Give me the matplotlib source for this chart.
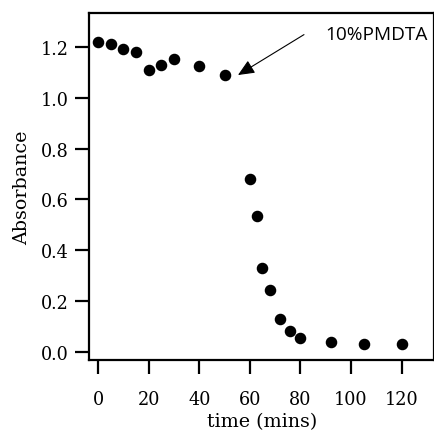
import matplotlib
matplotlib.use("Agg")
import matplotlib.pyplot as plt

time_min = [0, 5, 10, 15, 20, 25, 30, 40, 50, 60, 63, 65, 68, 72, 76, 80, 92, 105, 120]
absorbance = [1.218, 1.210, 1.190, 1.180, 1.109, 1.130, 1.151, 1.124, 1.089,
              0.680, 0.535, 0.331, 0.243, 0.131, 0.084, 0.053, 0.038, 0.031, 0.029]
x_ticks = [0, 20, 40, 60, 80, 100, 120]
y_ticks = [0.0, 0.2, 0.4, 0.6, 0.8, 1.0, 1.2]

plt.rcParams['font.family'] = ['DejaVu Serif']

fig = plt.figure(figsize=(4.35, 4.31), dpi=100)
ax = fig.add_axes([0.2057, 0.163, 0.792, 0.8045])
ax.plot(time_min, absorbance, 'o', color='black', markersize=7.3, linestyle='none')
ax.set_xlim(-3.4, 132.8)
ax.set_ylim(-0.031, 1.333)
ax.set_xticks(x_ticks)
ax.set_yticks(y_ticks)
ax.set_yticklabels([f"{v:.1f}" for v in y_ticks])
for s in ax.spines.values():
    s.set_linewidth(1.6)
ax.tick_params(direction='out', length=10, width=1.6, labelsize=12.7)
ax.tick_params(axis='x', pad=12)
ax.tick_params(axis='y', pad=5)
ax.set_xlabel('time (mins)', fontsize=13.7, labelpad=2.5)
ax.set_ylabel('Absorbance', fontsize=13.7, labelpad=7)
ax.annotate('', xy=(55.3, 1.089), xytext=(81.4, 1.248),
            arrowprops=dict(arrowstyle='-|>,head_length=0.5,head_width=0.22', color='black',
                            lw=0.8, mutation_scale=20, shrinkA=0, shrinkB=0))
ax.text(89.7, 1.251, '10%PMDTA', fontsize=13.7, family=['Open Sans', 'DejaVu Sans'],
        va='center', ha='left')
fig.savefig('out.png', dpi=100)
